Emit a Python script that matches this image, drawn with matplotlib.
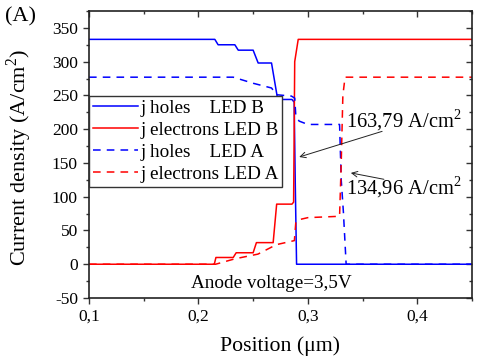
import matplotlib
matplotlib.use("Agg")
import matplotlib.pyplot as plt
from matplotlib.ticker import MultipleLocator

plt.rcParams["font.family"] = ["Liberation Serif", "DejaVu Serif"]
plt.rcParams["mathtext.fontset"] = "custom"
plt.rcParams["mathtext.rm"] = "Liberation Serif"

# j holes LED B (solid blue)
hb_x = [0.10, 0.215, 0.218, 0.2333, 0.2364, 0.250, 0.2546, 0.2668, 0.2714, 0.2725, 0.2855, 0.2875, 0.2885, 0.2897, 0.45]
hb_y = [333, 333, 325, 325, 317, 317, 298, 298, 254, 244, 244, 240, 120, 0, 0]
# j electrons LED B (solid red)
eb_x = [0.10, 0.2145, 0.2160, 0.2318, 0.2345, 0.2500, 0.2530, 0.2683, 0.2715, 0.2855, 0.2870, 0.2880, 0.2912, 0.45]
eb_y = [0, 0, 10, 10, 17, 17, 32, 32, 89, 89, 92, 300, 333, 333]
# j holes LED A (dashed blue)
ha_x = [0.10, 0.2318, 0.250, 0.2668, 0.2714, 0.2850, 0.2880, 0.2890, 0.2920, 0.300, 0.3290, 0.3305, 0.3325, 0.3350, 0.45]
ha_y = [277, 277, 268, 261, 251, 249, 246, 220, 212, 207, 207, 125, 77, 0, 0]
# j electrons LED A (dashed red)
ea_x = [0.10, 0.2157, 0.2333, 0.2544, 0.2712, 0.2877, 0.2890, 0.2920, 0.300, 0.3290, 0.3305, 0.3320, 0.3340, 0.45]
ea_y = [0, 0, 8, 15, 29, 35, 62, 66, 69, 71, 150, 250, 277, 277]

labels = ["j holes    LED B", "j electrons LED B", "j holes    LED A", "j electrons LED A"]
xticks = [0.1, 0.2, 0.3, 0.4]
xtick_labels = ["0,1", "0,2", "0,3", "0,4"]
yticks = [-50, 0, 50, 100, 150, 200, 250, 300, 350]
ytick_labels = ["-50", "0", "50", "100", "150", "200", "250", "300", "350"]

fig = plt.figure(figsize=(4.8, 3.62), dpi=100)
ax = fig.add_axes([0.1854, 0.1768, 0.7979, 0.7928])

lw = 1.1
ax.plot(hb_x, hb_y, color="#0000ff", lw=lw, label=labels[0])
ax.plot(eb_x, eb_y, color="#ff0000", lw=lw, label=labels[1])
ax.plot(ha_x, ha_y, color="#0000ff", lw=lw, ls=(0, (5, 4)), label=labels[2])
ax.plot(ea_x, ea_y, color="#ff0000", lw=lw, ls=(0, (5, 4)), label=labels[3])

ax.set_xlim(0.1, 0.45)
ax.set_ylim(-50, 375)
ax.set_xticks(xticks)
ax.set_xticklabels(xtick_labels)
ax.set_yticks(yticks)
ax.set_yticklabels(ytick_labels)
ax.xaxis.set_minor_locator(MultipleLocator(0.05))
ax.yaxis.set_minor_locator(MultipleLocator(25))
ax.tick_params(which="both", labelsize=12.5, width=1.0, color="#333333")
ax.tick_params(which="major", length=4.5)
ax.tick_params(which="minor", length=2.5)
ax.tick_params(which="both", top=True, right=True, labeltop=False, labelright=False)
# left/bottom ticks outward, top/right ticks inward (mirrored)
for t in ax.xaxis.get_major_ticks() + ax.xaxis.get_minor_ticks():
    t.tick1line.set_marker(3)
    t.tick2line.set_marker(3)
for t in ax.yaxis.get_major_ticks() + ax.yaxis.get_minor_ticks():
    t.tick1line.set_marker(0)
    t.tick2line.set_marker(0)
for s in ax.spines.values():
    s.set_linewidth(1.2)
    s.set_color("#222222")

ax.set_xlabel("Position (μm)", fontsize=15.7)
ax.xaxis.set_label_coords(0.4987, -0.133)
ax.set_ylabel("Current density (A/cm$^2$)", fontsize=16)
ax.yaxis.set_label_coords(-0.144, 0.49)

leg = ax.legend(loc="upper left", bbox_to_anchor=(0, 0.704), borderaxespad=0,
                fontsize=13.8, fancybox=False, framealpha=1, edgecolor="#333333",
                handlelength=2.35, handletextpad=0.12, labelspacing=0.23,
                borderpad=0.2)
leg.get_frame().set_linewidth(1.0)

ax.text(0.3347, 202, "163,79 A/cm$^2$", fontsize=14.8, va="baseline")
ax.text(0.3347, 103, "134,96 A/cm$^2$", fontsize=14.8, va="baseline")
ax.annotate("", xy=(0.2897, 157.6), xytext=(0.3703, 198),
            arrowprops=dict(arrowstyle="->", lw=0.7, color="#222222"))
ax.annotate("", xy=(0.3368, 136), xytext=(0.372, 125),
            arrowprops=dict(arrowstyle="->", lw=0.7, color="#222222"))
ax.text(0.267, -28, "Anode voltage=3,5V", fontsize=13.8, ha="center", va="center")

fig.text(0.01, 0.953, "(A)", fontsize=16, va="center")

fig.savefig("out.png", dpi=100)
